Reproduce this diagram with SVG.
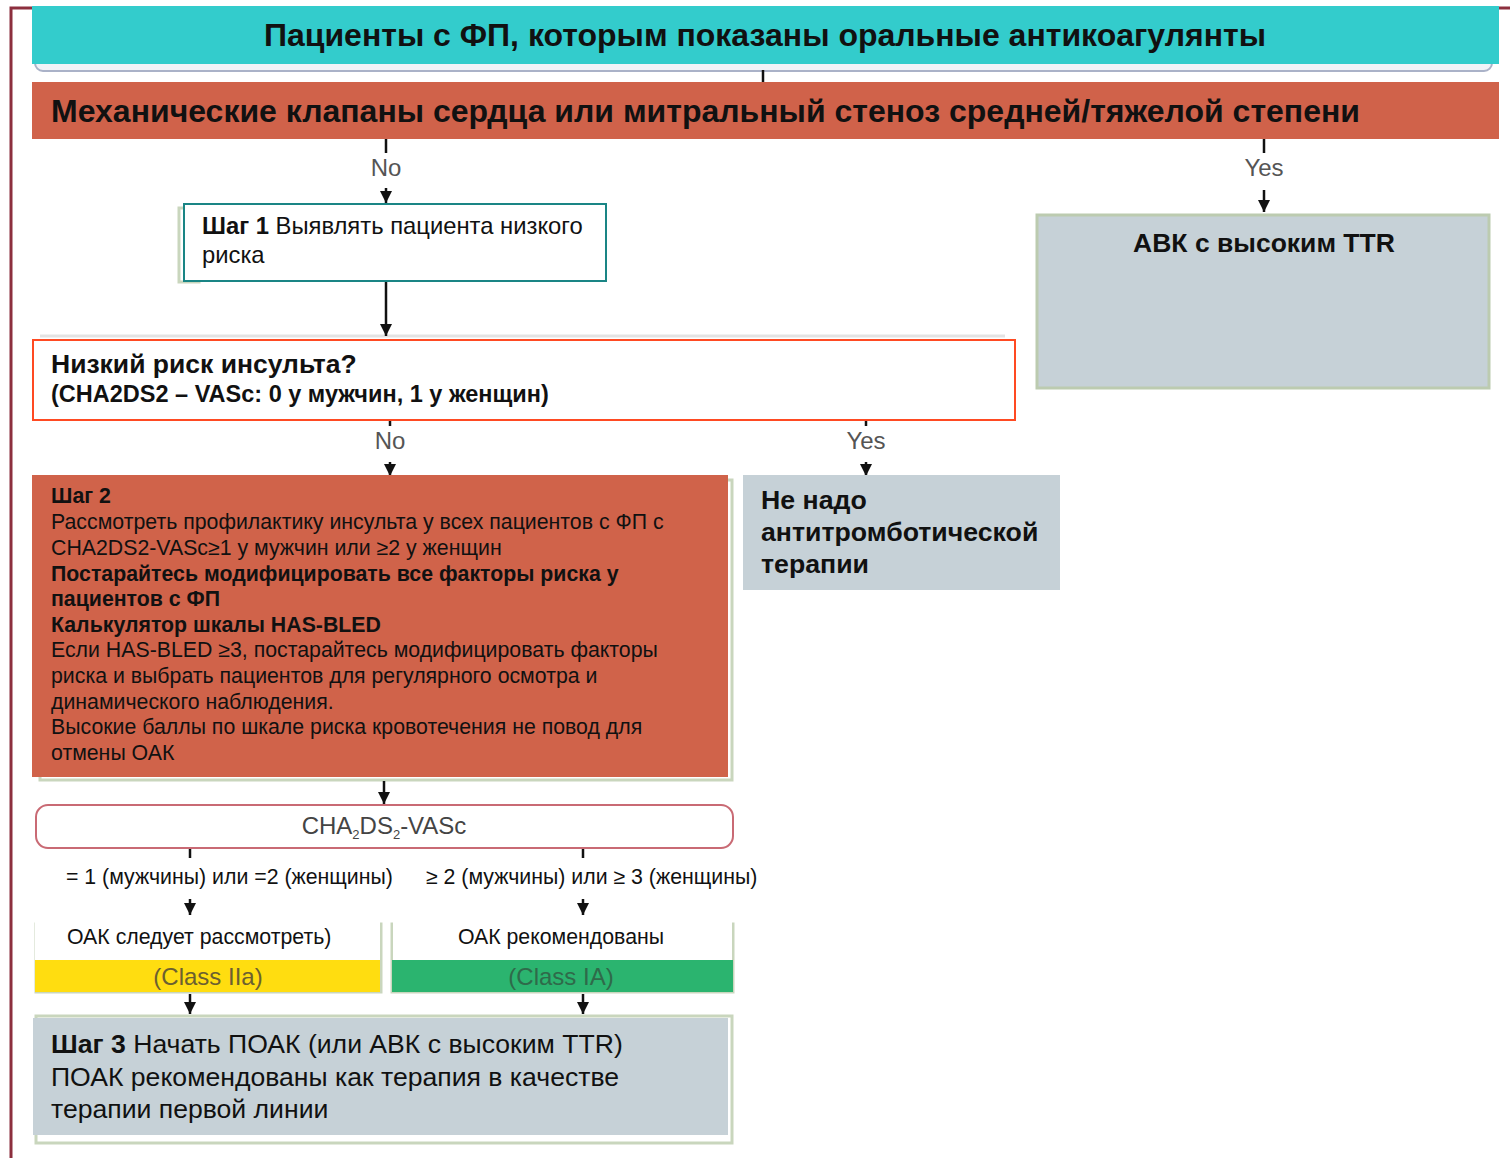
<svg xmlns="http://www.w3.org/2000/svg" width="1510" height="1158" viewBox="0 0 1510 1158">
<defs>
<marker id="ah" viewBox="0 0 10 10" refX="10" refY="5" markerWidth="13" markerHeight="12" markerUnits="userSpaceOnUse" orient="auto">
<path d="M0,0 L10,5 L0,10 z" fill="#111"/>
</marker>
<style>
text{font-family:"Liberation Sans",Arial,sans-serif;fill:#111}
.b{font-weight:bold}
.lbl{font-size:24px;fill:#555}
.conn line{stroke:#111;stroke-width:2.5}
.arr{marker-end:url(#ah)}
.ghost{fill:none;stroke:#c9d6bd;stroke-width:3}
.s2{font-size:21.3px}
.c{font-size:21.3px}
</style>
</defs>
<rect width="1510" height="1158" fill="#fff"/>
<rect x="11" y="8" width="1520" height="1180" fill="none" stroke="#8c2f3e" stroke-width="3"/>

<!-- faded remnants of original boxes -->
<rect x="35" y="40" width="1457" height="31" rx="8" fill="#f1f3f8" stroke="#aab2c8" stroke-width="2"/>
<rect x="179" y="208" width="20" height="74" class="ghost"/>
<line x1="40" y1="336" x2="1005" y2="336" stroke="#e3e3e3" stroke-width="3"/>
<rect x="40" y="480" width="692" height="300" class="ghost"/>
<rect x="36" y="924" width="345" height="68" class="ghost"/>
<rect x="392" y="924" width="341" height="68" class="ghost"/>
<rect x="36" y="1016" width="696" height="127" class="ghost"/>

<g class="conn">
<line x1="763" y1="70" x2="763" y2="82"/>
<line x1="386" y1="139" x2="386" y2="153"/>
<line x1="386" y1="188" x2="386" y2="203" class="arr"/>
<line x1="1264" y1="139" x2="1264" y2="153"/>
<line x1="1264" y1="190" x2="1264" y2="212" class="arr"/>
<line x1="386" y1="282" x2="386" y2="336" class="arr"/>
<line x1="390" y1="420" x2="390" y2="426"/>
<line x1="390" y1="462" x2="390" y2="476" class="arr"/>
<line x1="866" y1="420" x2="866" y2="426"/>
<line x1="866" y1="462" x2="866" y2="476" class="arr"/>
<line x1="384" y1="781" x2="384" y2="804" class="arr"/>
<line x1="190" y1="848" x2="190" y2="858"/>
<line x1="583" y1="848" x2="583" y2="858"/>
<line x1="190" y1="899" x2="190" y2="915" class="arr"/>
<line x1="583" y1="899" x2="583" y2="915" class="arr"/>
<line x1="190" y1="994" x2="190" y2="1014" class="arr"/>
<line x1="583" y1="994" x2="583" y2="1014" class="arr"/>
<text x="386" y="176" text-anchor="middle" class="lbl">No</text>
<text x="1264" y="176" text-anchor="middle" class="lbl">Yes</text>
<text x="390" y="449" text-anchor="middle" class="lbl">No</text>
<text x="866" y="449" text-anchor="middle" class="lbl">Yes</text>
</g>

<g id="title">
<rect x="32" y="6" width="1467" height="58" fill="#33cccc"/>
<text x="765" y="46" text-anchor="middle" class="b" font-size="32">Пациенты с ФП, которым показаны оральные антикоагулянты</text>
</g>

<g id="valves">
<rect x="32" y="82" width="1467" height="57" fill="#d0624a"/>
<text x="51" y="122" class="b" font-size="32">Механические клапаны сердца или митральный стеноз средней/тяжелой степени</text>
</g>

<g id="step1">
<rect x="184" y="204" width="422" height="77" fill="#fff" stroke="#1a8585" stroke-width="2"/>
<text x="202" y="234" font-size="23.8"><tspan class="b">Шаг 1</tspan> Выявлять пациента низкого</text>
<text x="202" y="263" font-size="23.8">риска</text>
</g>

<g id="avk">
<rect x="1037" y="215" width="452" height="173" fill="#c6d1d7" stroke="#bccbb0" stroke-width="3"/>
<text x="1264" y="252" text-anchor="middle" class="b" font-size="26.5">АВК с высоким TTR</text>
</g>

<g id="lowrisk">
<rect x="33" y="340" width="982" height="80" fill="#fff" stroke="#ff4a22" stroke-width="2"/>
<text x="51" y="373" class="b" font-size="26.5">Низкий риск инсульта?</text>
<text x="51" y="402" class="b" font-size="23.5">(CHA2DS2 – VASc: 0 у мужчин, 1 у женщин)</text>
</g>

<g id="step2">
<rect x="32" y="475" width="696" height="302" fill="#d0634a"/>
<text x="51" y="503" class="s2 b">Шаг 2</text>
<text x="51" y="529" class="s2">Рассмотреть профилактику инсульта у всех пациентов с ФП с</text>
<text x="51" y="555" class="s2">CHA2DS2-VASc≥1 у мужчин или ≥2 у женщин</text>
<text x="51" y="581" class="s2 b">Постарайтесь модифицировать все факторы риска у</text>
<text x="51" y="606" class="s2 b">пациентов с ФП</text>
<text x="51" y="632" class="s2 b">Калькулятор шкалы HAS-BLED</text>
<text x="51" y="657" class="s2">Если HAS-BLED ≥3, постарайтесь модифицировать факторы</text>
<text x="51" y="683" class="s2">риска и выбрать пациентов для регулярного осмотра и</text>
<text x="51" y="709" class="s2">динамического наблюдения.</text>
<text x="51" y="734" class="s2">Высокие баллы по шкале риска кровотечения не повод для</text>
<text x="51" y="760" class="s2">отмены ОАК</text>
</g>

<g id="noanti">
<rect x="743" y="475" width="317" height="115" fill="#c6d1d7"/>
<text x="761" y="509" class="b" font-size="26.7">Не надо</text>
<text x="761" y="541" class="b" font-size="26.7">антитромботической</text>
<text x="761" y="573" class="b" font-size="26.7">терапии</text>
</g>

<g id="chavasc">
<rect x="36" y="805" width="697" height="43" rx="12" fill="#fff" stroke="#c96a74" stroke-width="2"/>
<text x="384" y="834" text-anchor="middle" font-size="24" style="fill:#444">CHA<tspan font-size="13" dy="5">2</tspan><tspan dy="-5">DS</tspan><tspan font-size="13" dy="5">2</tspan><tspan dy="-5">-VASc</tspan></text>
</g>

<g id="cond-labels">
<text x="66" y="884" class="c">= 1 (мужчины) или =2 (женщины)</text>
<text x="426" y="884" class="c">≥ 2 (мужчины) или ≥ 3 (женщины)</text>
</g>

<g id="class2a">
<rect x="35" y="960" width="345" height="32" fill="#ffdd10"/>
<rect x="35" y="920" width="345" height="40" fill="#fff"/>
<text x="67" y="944" class="c">ОАК следует рассмотреть)</text>
<text x="208" y="985" text-anchor="middle" font-size="24" style="fill:#6b6030">(Class IIa)</text>
</g>

<g id="class1a">
<rect x="392" y="960" width="341" height="32" fill="#2bb46f"/>
<rect x="393" y="920" width="339" height="40" fill="#fff"/>
<text x="561" y="944" text-anchor="middle" class="c">ОАК рекомендованы</text>
<text x="561" y="985" text-anchor="middle" font-size="24" style="fill:#2f6a4a">(Class IA)</text>
</g>

<g id="step3">
<rect x="33" y="1018" width="695" height="117" fill="#c6d1d7"/>
<text x="51" y="1053" font-size="26.6"><tspan class="b">Шаг 3</tspan> Начать ПОАК (или АВК с высоким TTR)</text>
<text x="51" y="1086" font-size="26.6">ПОАК рекомендованы как терапия в качестве</text>
<text x="51" y="1118" font-size="26.6">терапии первой линии</text>
</g>
</svg>
